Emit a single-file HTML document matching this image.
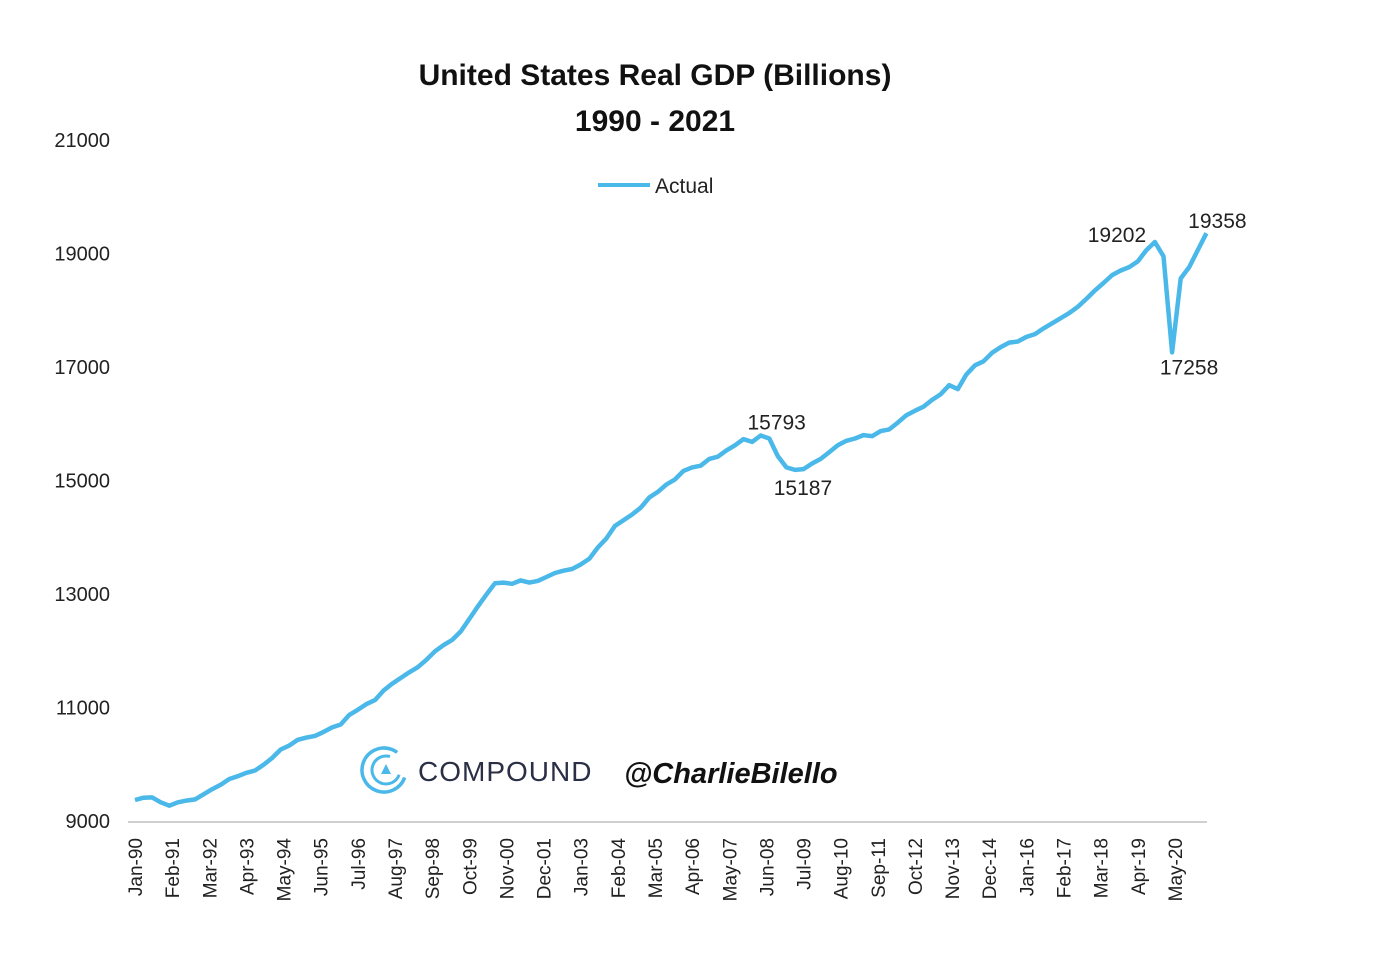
<!DOCTYPE html>
<html><head><meta charset="utf-8"><style>
html,body{margin:0;padding:0;background:#fff;}
svg{display:block;font-family:"Liberation Sans",sans-serif;}
</style></head><body>
<svg id="chart" width="1378" height="958" viewBox="0 0 1378 958">
<text x="655" y="85" text-anchor="middle" font-size="30" font-weight="bold" fill="#111">United States Real GDP (Billions)</text>
<text x="655" y="131" text-anchor="middle" font-size="30" font-weight="bold" fill="#111">1990 - 2021</text>
<g>
<line x1="598" y1="185" x2="650" y2="185" stroke="#4bb8ea" stroke-width="4"/>
<text x="655" y="193" font-size="21" fill="#222">Actual</text>
</g>
<g>
<circle cx="384" cy="770" r="22" fill="none" stroke="#4bb8ea" stroke-width="3.5" stroke-dasharray="110 30" transform="rotate(20 384 770)"/>
<circle cx="386" cy="770" r="14" fill="none" stroke="#4bb8ea" stroke-width="3" stroke-dasharray="65 23" transform="rotate(20 386 770)"/>
<polygon points="386,764 381,774 391,774" fill="#4bb8ea"/>
<text x="418" y="781" font-size="28" fill="#2b2f45" letter-spacing="1">COMPOUND</text>
<text x="624" y="783" font-size="29" font-style="italic" font-weight="bold" fill="#111">@CharlieBilello</text>
</g>
<g id="yaxis"></g>
<line x1="128" y1="822" x2="1207" y2="822" stroke="#d0d0d0" stroke-width="2"/>
<g id="xaxis"></g>
<g id="series"></g>
<g id="annots"></g>
</svg>
<script>
const yTicks = [9000, 11000, 13000, 15000, 17000, 19000, 21000];
const xLabels = ["Jan-90","Feb-91","Mar-92","Apr-93","May-94","Jun-95","Jul-96","Aug-97","Sep-98","Oct-99","Nov-00","Dec-01","Jan-03","Feb-04","Mar-05","Apr-06","May-07","Jun-08","Jul-09","Aug-10","Sep-11","Oct-12","Nov-13","Dec-14","Jan-16","Feb-17","Mar-18","Apr-19","May-20"];
const gdpQuarterly = [
9370,9410,9415,9330, 9270,9330,9360,9380, 9470,9560,9640,9740, 9790,9850,9890,9990,
10110,10260,10330,10430, 10470,10500,10570,10650, 10700,10870,10960,11060, 11130,11300,11420,11520,
11620,11710,11840,11990, 12100,12190,12340,12560, 12780,12990,13190,13200, 13180,13240,13200,13230,
13300,13370,13410,13440, 13520,13620,13820,13980, 14200,14300,14400,14520, 14700,14800,14930,15020,
15170,15230,15260,15380, 15420,15530,15620,15730, 15680,15793,15740,15430, 15230,15187,15200,15300,
15380,15500,15620,15700, 15740,15800,15780,15870, 15900,16020,16150,16230, 16300,16420,16520,16680,
16610,16870,17030,17100, 17250,17350,17430,17450, 17530,17580,17680,17770, 17860,17950,18060,18200,
18350,18480,18620,18700, 18760,18860,19060,19202, 18950,17258,18560,18760, 19060,19358];
const annotations = [
 {idx:73, label:"15793", dx:16, dy:-6},
 {idx:77, label:"15187", dx:8, dy:25},
 {idx:119, label:"19202", dx:-38, dy:0},
 {idx:121, label:"17258", dx:17, dy:22},
 {idx:125, label:"19358", dx:11, dy:-5}
];
const NS="http://www.w3.org/2000/svg";
const yS = v => 821 - (v-9000)/2000*113.5;
const xS = m => 135 + m*2.857;
const yg=document.getElementById('yaxis');
yTicks.forEach(t=>{
 const e=document.createElementNS(NS,'text');
 e.setAttribute('x',110);e.setAttribute('y',yS(t)+7);e.setAttribute('text-anchor','end');
 e.setAttribute('font-size','20');e.setAttribute('fill','#222');e.textContent=t;
 
 
 yg.appendChild(e);
});
const xg=document.getElementById('xaxis');
xLabels.forEach((l,i)=>{
 const x=xS(i*13);
 const e=document.createElementNS(NS,'text');
 e.setAttribute('transform',`translate(${x+7},838) rotate(-90)`);
 e.setAttribute('text-anchor','end');e.setAttribute('font-size','19');e.setAttribute('fill','#222');
 e.textContent=l;
 
 
 xg.appendChild(e);
});
const pts=gdpQuarterly.map((v,i)=>xS(i*3).toFixed(1)+','+yS(v).toFixed(1)).join(' ');
const pl=document.createElementNS(NS,'polyline');
pl.setAttribute('points',pts);pl.setAttribute('fill','none');pl.setAttribute('stroke','#4bb8ea');
pl.setAttribute('stroke-width','4.5');pl.setAttribute('stroke-linejoin','round');


document.getElementById('series').appendChild(pl);
const ag=document.getElementById('annots');
annotations.forEach(a=>{
 const e=document.createElementNS(NS,'text');
 e.setAttribute('x',xS(a.idx*3)+a.dx);e.setAttribute('y',yS(gdpQuarterly[a.idx])+a.dy);
 e.setAttribute('text-anchor','middle');e.setAttribute('font-size','21');e.setAttribute('fill','#222');
 e.textContent=a.label;
 
 
 ag.appendChild(e);
});
</script>
</body></html>
